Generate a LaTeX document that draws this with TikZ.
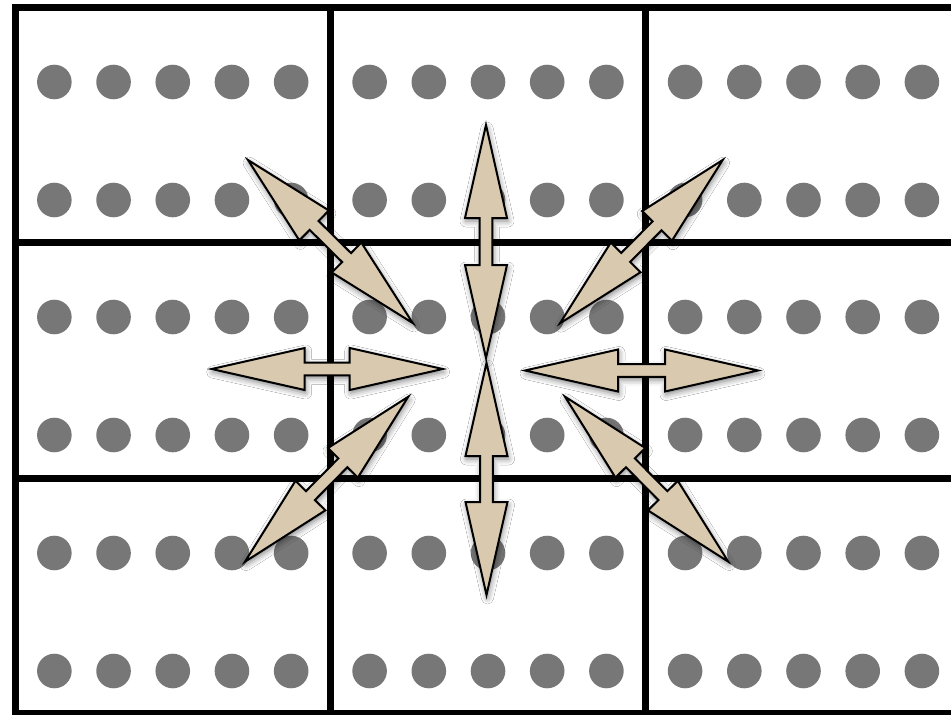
\documentclass[tikz,border=0pt]{standalone}
\usetikzlibrary{shadows.blur}
\definecolor{dotgray}{RGB}{119,119,119}
\definecolor{arrowfill}{RGB}{217,201,174}
\tikzset{
  gridline/.style={line width=7pt, black},
  dotstyle/.style={fill=dotgray},
  arrowstyle/.style={draw=black, line width=2pt, miter limit=20, fill=arrowfill,
    blur shadow={shadow xshift=1pt, shadow yshift=-3pt, shadow blur radius=6pt, shadow opacity=50}}
}
\newcommand{\dblarr}[4]{%
  \pgfmathsetmacro{\arrang}{atan2(-((#4)-(#2)),(#3)-(#1))}%
  \pgfmathsetmacro{\arrlen}{veclen((#3)-(#1),(#4)-(#2))}%
  \pgfmathsetmacro{\arrb}{\arrlen-93}%
  \begin{scope}[shift={(#1,#2)},rotate=\arrang]
    \draw[arrowstyle] (0,0) -- (93,21) -- (93,6.3) -- (\arrb,6.3) -- (\arrb,21)
      -- (\arrlen,0) -- (\arrb,-21) -- (\arrb,-6.3) -- (93,-6.3) -- (93,-21) -- cycle;
  \end{scope}}
\begin{document}
\begin{tikzpicture}[x=1pt,y=-1pt]
\useasboundingbox (0,0) rectangle (951,715);
\fill[white] (0,0) rectangle (951,715);
% dots
\foreach \cx in {172.75,488,803.5}{
  \foreach \k in {-2,...,2}{
    \foreach \ry in {82,200,317,435,553,671}{
      \fill[dotstyle] (\cx+\k*59.2,\ry) circle[radius=17.3pt];
    }}}
% grid
\draw[gridline] (1000,7) -- (15,7) -- (15,713) -- (1000,713);
\draw[gridline] (15,242) -- (1000,242);
\draw[gridline] (15,478) -- (1000,478);
\draw[gridline] (330.5,7) -- (330.5,713);
\draw[gridline] (645.5,7) -- (645.5,713);
% arrows
\dblarr{486}{125}{486}{358}
\dblarr{486.5}{363}{486.5}{595}
\dblarr{211.7}{369}{442.7}{369}
\dblarr{525}{370.5}{758}{370.5}
\dblarr{248}{160}{412.7}{323}
\dblarr{722.7}{160}{560}{323.3}
\dblarr{408.3}{396.7}{245}{561.7}
\dblarr{565}{396.7}{728.3}{561.7}
\end{tikzpicture}
\end{document}
